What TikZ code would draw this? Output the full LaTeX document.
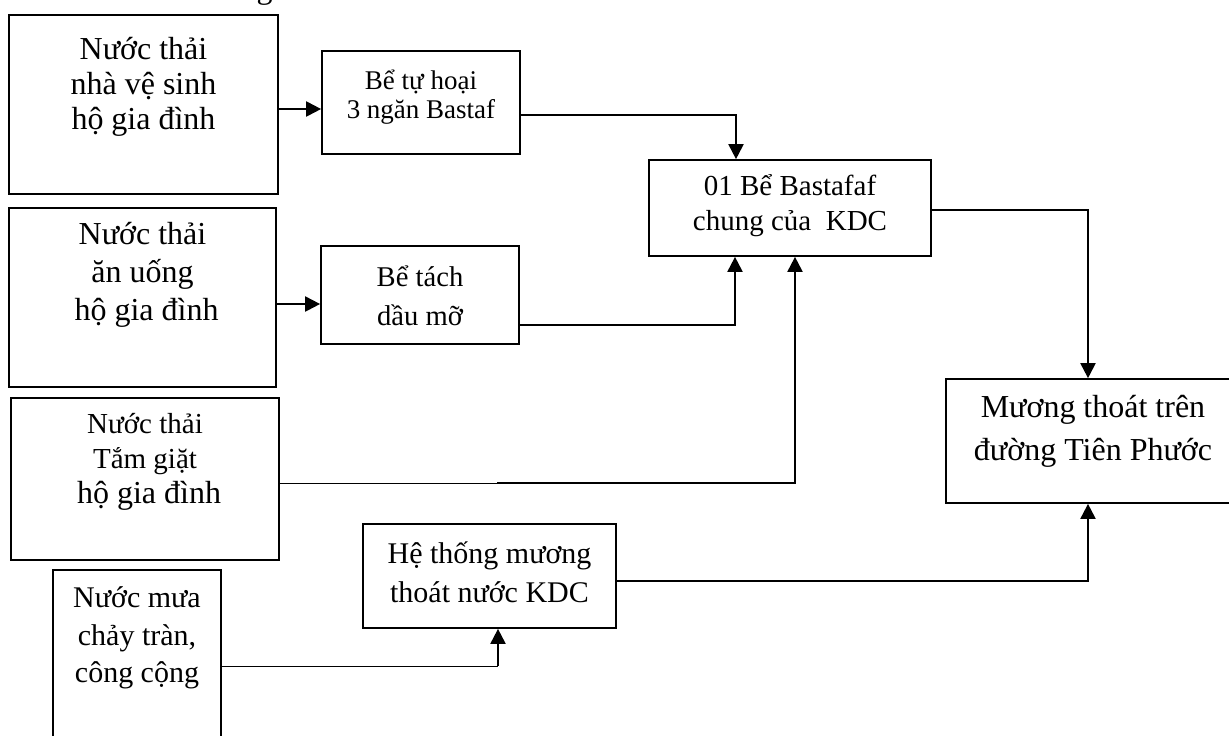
\documentclass[tikz,border=0pt]{standalone}
\usepackage{fontspec}
\setmainfont{Liberation Serif}
\usetikzlibrary{arrows.meta}
\begin{document}
\begin{tikzpicture}[x=0.5pt,y=-0.5pt,
  box/.style={draw, line width=0.85pt, inner sep=0pt, rectangle},
  txt/.style={align=center, inner sep=0pt},
  conn/.style={line width=1pt},
  thinconn/.style={line width=0.5pt},
  arr/.style={-{Triangle[length=7.5pt,width=7.5pt]}}]
\useasboundingbox (0,0) rectangle (1229,735);
% clipped fragment of a caption above the picture
\begin{scope}
\clip (0,0) rectangle (1229,735);
\node[anchor=base, inner sep=0pt, font=\fontsize{16}{17}\selectfont] (frag) at (264.5,-2) {g};
\end{scope}
% boxes
\node[box, minimum width=134.5pt, minimum height=89.5pt] (A) at (143.5,104.5) {};
\node[box, minimum width=99pt, minimum height=51.5pt] (B) at (421,102.5) {};
\node[box, minimum width=141pt, minimum height=48pt] (C) at (790,208) {};
\node[box, minimum width=133.5pt, minimum height=89.5pt] (A2) at (142.5,297.5) {};
\node[box, minimum width=99pt, minimum height=49pt] (D) at (420,295) {};
\node[box, minimum width=134pt, minimum height=81pt] (A3) at (145,479) {};
\node[box, minimum width=84pt, minimum height=87.5pt] (R) at (137,657.5) {};
\node[box, minimum width=126.5pt, minimum height=52pt] (H) at (489.5,576) {};
\node[box, minimum width=147pt, minimum height=62pt] (E) at (1093,441) {};
% texts
\node[txt, font=\fontsize{16}{17.5}\selectfont] (At) at (143.5,87) {Nước thải\\nhà vệ sinh\\hộ gia đình};
\node[txt, font=\fontsize{13.5}{14.5}\selectfont] (Bt) at (421,97) {Bể tự hoại\\3 ngăn Bastaf};
\node[txt, font=\fontsize{14.5}{17.5}\selectfont] (Ct) at (790,205.5) {01 Bể Bastafaf\\chung của\ \ KDC};
\node[txt, font=\fontsize{16}{19}\selectfont] (A2t) at (142.5,275) {Nước thải\\ăn uống\\\hspace*{0.25em}hộ gia đình};
\node[txt, font=\fontsize{14.3}{19.5}\selectfont] (Dt) at (420,295.5) {Bể tách\\dầu mỡ};
\node[txt, font=\fontsize{14.5}{17.5}\selectfont] (A3t) at (145,462) {Nước thải\\Tắm giặt\\{\fontsize{16}{17.5}\selectfont\hspace*{0.25em}hộ gia đình}};
\node[txt, font=\fontsize{15}{19.5}\selectfont] (Ht) at (489.5,572.5) {Hệ thống mương\\thoát nước KDC};
\node[txt, font=\fontsize{15}{18.75}\selectfont] (Rt) at (137,638) {Nước mưa\\chảy tràn,\\công cộng};
\node[txt, font=\fontsize{16}{21.5}\selectfont] (Et) at (1093,431.5) {Mương thoát trên\\đường Tiên Phước};
% connectors
\coordinate (yAB) at (0,109);
\draw[conn,arr] (A.east |- yAB) -- (B.west |- yAB);
\coordinate (jBC) at (736,115);
\draw[conn,arr] (B.east |- jBC) -- (jBC) -- (C.north -| jBC);
\coordinate (yAD) at (0,304);
\draw[conn,arr] (A2.east |- yAD) -- (D.west |- yAD);
\coordinate (jDC) at (735,325);
\draw[conn,arr] (D.east |- jDC) -- (jDC) -- (C.south -| jDC);
\coordinate (mA3) at (497,483);
\coordinate (jA3) at (795,483);
\draw[thinconn] (A3.east |- mA3) -- (mA3);
\draw[conn,arr] (mA3) -- (jA3) -- (C.south -| jA3);
\coordinate (jCE) at (1088,210);
\draw[conn,arr] (C.east |- jCE) -- (jCE) -- (E.north -| jCE);
\coordinate (jRH) at (498,666);
\draw[thinconn] (R.east |- jRH) -- (jRH);
\draw[conn,arr] (jRH) -- (H.south -| jRH);
\coordinate (jHE) at (1088,581);
\draw[conn,arr] (H.east |- jHE) -- (jHE) -- (E.south -| jHE);
\end{tikzpicture}
\end{document}
